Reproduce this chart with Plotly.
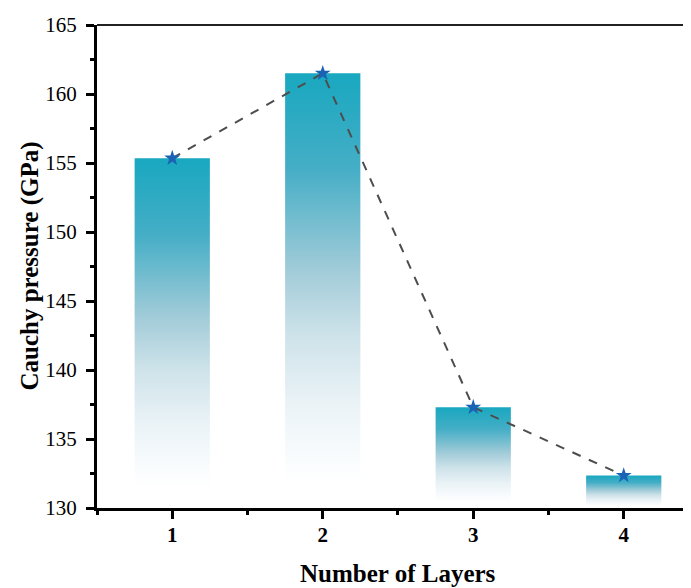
import plotly.graph_objects as go

layers = [1, 2, 3, 4]
cauchy = [155.35, 161.5, 137.3, 132.35]
tick_vals_y = [130, 135, 140, 145, 150, 155, 160, 165]

base = 130
half_w = 0.25
font_family = "Liberation Serif, Times New Roman, serif"

grad = [
    [0.0, "#ffffff"],
    [0.06, "#ffffff"],
    [0.14, "#f6fafc"],
    [0.25, "#e9f2f6"],
    [0.40, "#cde2e9"],
    [0.55, "#a0cbd8"],
    [0.78, "#45aec6"],
    [1.0, "#18a8c0"],
]

fig = go.Figure()

for xv, yv in zip(layers, cauchy):
    fig.add_trace(go.Scatter(
        x=[xv - half_w, xv + half_w, xv + half_w, xv - half_w, xv - half_w],
        y=[base, base, yv, yv, base],
        mode="lines",
        line=dict(width=0),
        fill="toself",
        fillgradient=dict(type="vertical", colorscale=grad),
        hoverinfo="skip",
        showlegend=False,
    ))

fig.add_trace(go.Scatter(
    x=layers, y=cauchy,
    mode="lines+markers",
    line=dict(color="#4d4d4d", width=2, dash="dash"),
    marker=dict(symbol="star", size=12, color="#1a62b4"),
    showlegend=False,
))

# the page body adds an 8px offset, so the figure is 8px smaller on each axis
fig.update_layout(
    width=683, height=580,
    margin=dict(l=89, r=0, t=17, b=80, pad=0),
    plot_bgcolor="white", paper_bgcolor="white",
    font=dict(family=font_family, color="black"),
    showlegend=False,
)

fig.update_xaxes(
    range=[0.5, 4.447], automargin=False,
    tickmode="array", tickvals=layers, ticktext=[str(v) for v in layers],
    ticks="outside", ticklen=8, tickwidth=3, tickcolor="black",
    minor=dict(dtick=0.5, tick0=0.5, ticks="outside", ticklen=4, tickwidth=3, tickcolor="black"),
    showline=True, linewidth=3, linecolor="black",
    showgrid=False, zeroline=False,
    tickfont=dict(size=21, family=font_family, weight="bold"),
    ticklabelstandoff=-2,
)

fig.update_yaxes(
    range=[130, 165], automargin=False,
    tickmode="array", tickvals=tick_vals_y,
    ticks="outside", ticklen=8, tickwidth=3, tickcolor="black",
    minor=dict(dtick=2.5, tick0=130, ticks="outside", ticklen=4, tickwidth=3, tickcolor="black"),
    showline=True, linewidth=3, linecolor="black",
    showgrid=False, zeroline=False,
    tickfont=dict(size=21, family=font_family),
    ticklabelstandoff=5,
)

# top frame line
fig.add_shape(type="line", xref="paper", yref="paper", x0=0, x1=1, y0=1, y1=1,
              line=dict(color="#222222", width=2))

# axis titles
fig.add_annotation(
    x=(layers[0] + layers[-1]) / 2, xref="x",
    y=0, yref="paper", yanchor="top", yshift=-50,
    text="Number of Layers", showarrow=False,
    font=dict(size=25, family=font_family, weight="bold"),
)
fig.add_annotation(
    x=0, xref="paper", xanchor="center", xshift=-68,
    y=0.5, yref="paper", yanchor="middle",
    text="Cauchy pressure (GPa)", textangle=-90, showarrow=False,
    font=dict(size=25, family=font_family, weight="bold"),
)

fig.write_html("out.html")
